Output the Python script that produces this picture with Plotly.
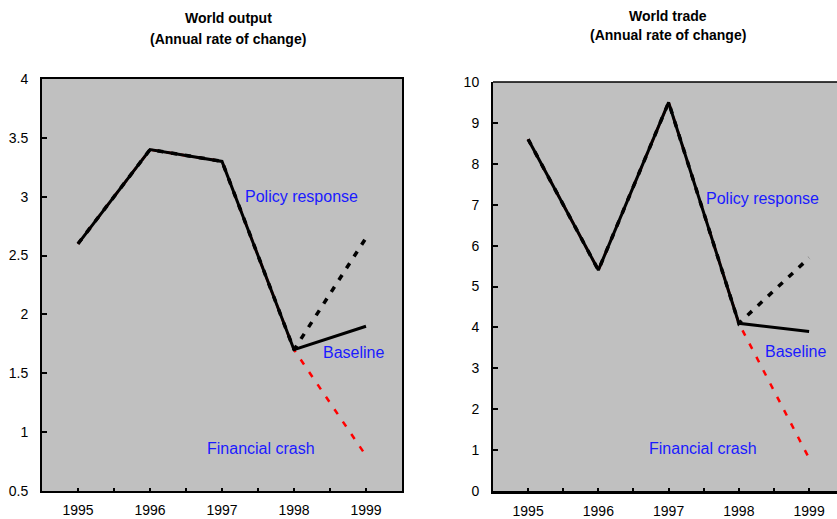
import plotly.graph_objects as go

years = [1995, 1996, 1997, 1998, 1999]

output_baseline = [2.6, 3.4, 3.3, 1.7, 1.9]
output_policy = [2.6, 3.4, 3.3, 1.7, 2.65]
output_crash = [2.6, 3.4, 3.3, 1.7, 0.8]

trade_baseline = [8.6, 5.4, 9.5, 4.1, 3.9]
trade_policy = [8.6, 5.4, 9.5, 4.1, 5.7]
trade_crash = [8.6, 5.4, 9.5, 4.1, 0.8]

W, H = 837, 519
FONT = "Liberation Sans, Arial, sans-serif"

fig = go.Figure()

def add_series(xa, ya, base, pol, crash):
    fig.add_trace(go.Scatter(x=years, y=crash, mode="lines", xaxis=xa, yaxis=ya,
                             line=dict(color="#FF0000", width=2.5, dash="6px,9px"),
                             showlegend=False, hoverinfo="skip"))
    fig.add_trace(go.Scatter(x=years, y=pol, mode="lines", xaxis=xa, yaxis=ya,
                             line=dict(color="black", width=3.5, dash="6px,8px"),
                             showlegend=False, hoverinfo="skip"))
    fig.add_trace(go.Scatter(x=years, y=base, mode="lines", xaxis=xa, yaxis=ya,
                             line=dict(color="black", width=3),
                             showlegend=False, hoverinfo="skip"))

add_series("x", "y", output_baseline, output_policy, output_crash)
add_series("x2", "y2", trade_baseline, trade_policy, trade_crash)

axis_font = dict(family=FONT, size=14, color="black")

common_x = dict(tickvals=years, ticktext=[str(y) for y in years], showgrid=False, zeroline=False,
                showline=True, linecolor="black", ticks="inside", ticklen=3, tickcolor="black",
                tickwidth=1.5, tickfont=axis_font, ticklabelstandoff=5, automargin=False,
                minor=dict(ticks="inside", ticklen=3, tickcolor="black", tickwidth=1.5,
                           dtick=1, tick0=1994.5))
common_y = dict(showgrid=False, zeroline=False, showline=True, linecolor="black",
                ticks="inside", ticklen=5, tickcolor="black", tickwidth=1.5,
                tickfont=axis_font, ticklabelstandoff=9, automargin=False)

fig.update_layout(
    width=W, height=H,
    margin=dict(l=0, r=0, t=0, b=0, autoexpand=False),
    paper_bgcolor="white",
    plot_bgcolor="#C0C0C0",
    font=dict(family=FONT),
    xaxis=dict(domain=[42 / W, 402 / W], range=[1994.5, 1999.5], linewidth=2, mirror=True,
               anchor="y", **common_x),
    yaxis=dict(domain=[(H - 491) / H, (H - 79) / H], range=[0.5, 4], dtick=0.5, linewidth=2,
               mirror=True, anchor="x", **common_y),
    xaxis2=dict(domain=[493 / W, 1.0], range=[1994.5, 1999.397], linewidth=2.5, anchor="y2",
                **common_x),
    yaxis2=dict(domain=[(H - 491) / H, (H - 82) / H], range=[0, 10], dtick=1, linewidth=2,
                anchor="x2", **common_y),
    shapes=[dict(type="line", xref="x2 domain", yref="y2 domain", x0=0, x1=1, y0=1, y1=1,
                 line=dict(color="black", width=1.5))],
)

blue = dict(family=FONT, size=16, color="#1A1AFF")
ann = [
    dict(x=1998.11, y=3.0, xref="x", yref="y", text="Policy response", showarrow=False, font=blue),
    dict(x=1998.82, y=1.68, xref="x", yref="y", text="Baseline", showarrow=False, font=blue),
    dict(x=1997.54, y=0.865, xref="x", yref="y", text="Financial crash", showarrow=False, font=blue),
    dict(x=1998.34, y=7.16, xref="x2", yref="y2", text="Policy response", showarrow=False, font=blue),
    dict(x=1998.8, y=3.4, xref="x2", yref="y2", text="Baseline", showarrow=False, font=blue),
    dict(x=1997.49, y=1.05, xref="x2", yref="y2", text="Financial crash", showarrow=False, font=blue),
]
title_font = dict(family=FONT, size=14, color="black")
titles = [
    (228, 18, "World output"), (228, 39, "(Annual rate of change)"),
    (668, 16, "World trade"), (668, 35, "(Annual rate of change)"),
]
for tx, ty, tt in titles:
    ann.append(dict(x=tx / W, y=1 - ty / H, xref="paper", yref="paper", showarrow=False,
                    font=title_font, text="<b>" + tt + "</b>", yanchor="middle", xanchor="center"))
fig.update_layout(annotations=ann)

fig.write_html(
    "out.html",
    config={"displayModeBar": False},
    post_script="document.body.style.margin='0px';document.documentElement.style.overflow='hidden';document.body.style.overflow='hidden';",
)
